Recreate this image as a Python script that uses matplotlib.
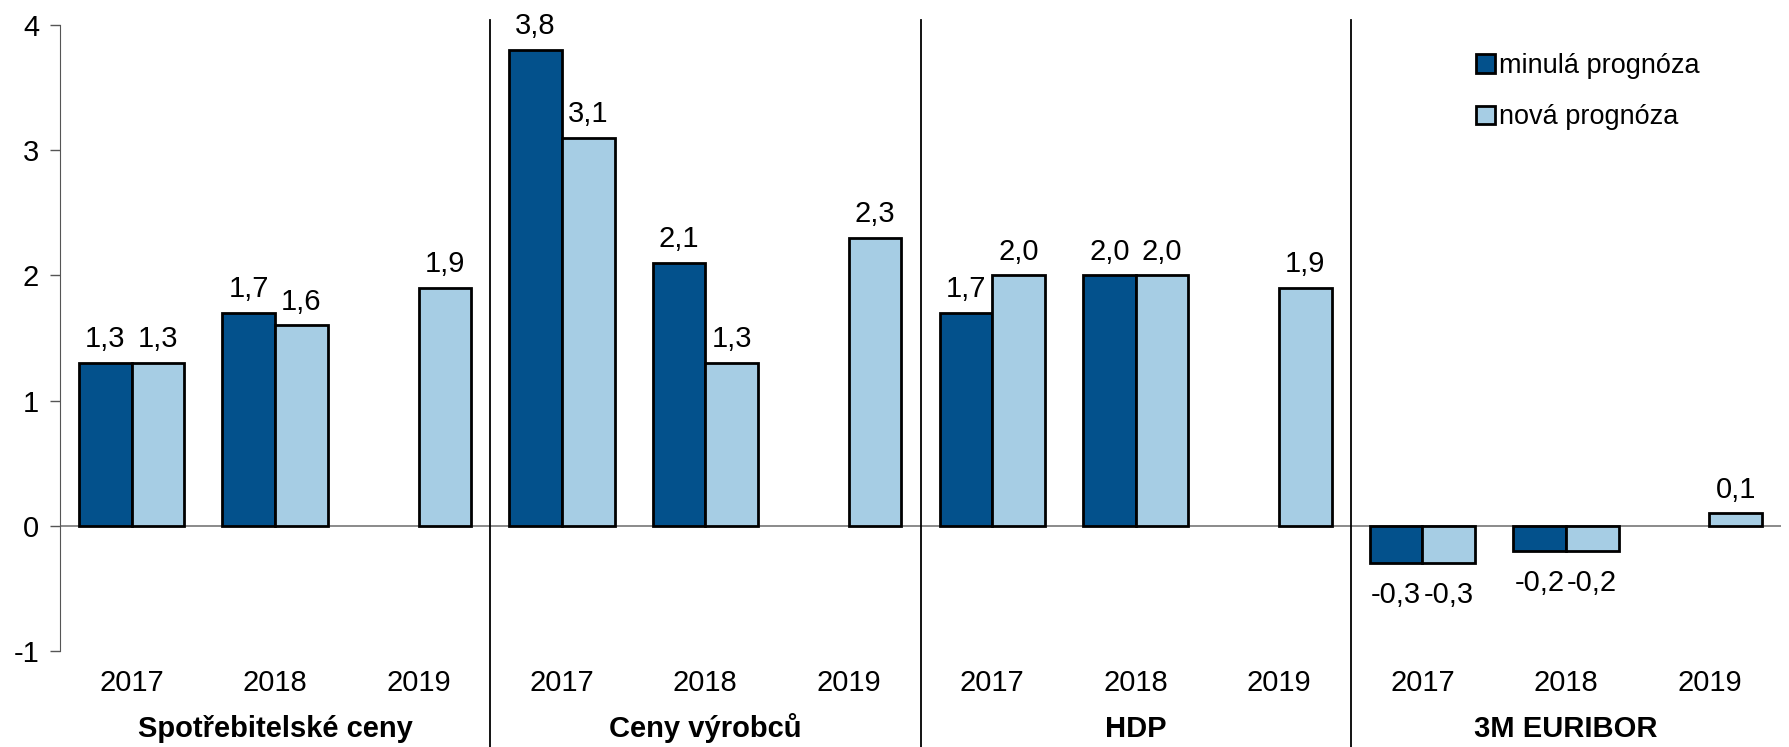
import matplotlib.pyplot as plt
import matplotlib.transforms as mtransforms
import numpy as np

plt.rcParams['font.family'] = ['Liberation Sans', 'DejaVu Sans']

groups = ["Spotřebitelské ceny", "Ceny výrobců", "HDP", "3M EURIBOR"]
years = ["2017", "2018", "2019"]
minula = [1.3, 1.7, np.nan, 3.8, 2.1, np.nan, 1.7, 2.0, np.nan, -0.3, -0.2, np.nan]
nova = [1.3, 1.6, 1.9, 3.1, 1.3, 2.3, 2.0, 2.0, 1.9, -0.3, -0.2, 0.1]

dark = "#03518c"
light = "#a6cde4"
fs = 21

fig = plt.figure(figsize=(17.9, 7.47), dpi=100)
ax = fig.add_axes([0.0335, 0.1285, 0.9615, 0.838])

x = np.arange(len(nova))
w = 0.367
b1 = ax.bar(x - w / 2, minula, w, color=dark, edgecolor="black", linewidth=2,
            label="minulá prognóza", zorder=3)
b2 = ax.bar(x + w / 2, nova, w, color=light, edgecolor="black", linewidth=2,
            label="nová prognóza", zorder=3)

def fmt(v):
    return f"{v:.1f}".replace(".", ",")

for bars, vals in ((b1, minula), (b2, nova)):
    for rect, v in zip(bars, vals):
        if np.isnan(v):
            continue
        cx = rect.get_x() + rect.get_width() / 2
        if v >= 0:
            ax.annotate(fmt(v), (cx, v), xytext=(0, 7), textcoords="offset points",
                        ha="center", va="bottom", fontsize=fs)
        else:
            ax.annotate(fmt(v), (cx, v), xytext=(0, -13), textcoords="offset points",
                        ha="center", va="top", fontsize=fs)

ax.set_xlim(-0.5, len(nova) - 0.5)
ax.set_ylim(-1, 4)
ax.set_yticks(range(-1, 5))
ax.set_yticklabels([str(t) for t in range(-1, 5)])
ax.set_xticks(x)
ax.set_xticklabels(years * len(groups))
ax.tick_params(axis="x", length=0, pad=13, labelsize=fs)
ax.tick_params(axis="y", direction="out", length=7, width=1, color="#555555",
               labelsize=fs, pad=8)

for s in ("top", "right", "bottom"):
    ax.spines[s].set_visible(False)
ax.spines["left"].set_color("#555555")

ax.axhline(0, color="#777777", linewidth=1.2, zorder=2)

# separators between groups, run down past the axis
for k in range(1, len(groups)):
    ax.plot([k * 3 - 0.5, k * 3 - 0.5], [4.04, -1.77], color="black", linewidth=1.3,
            clip_on=False, zorder=4)

trans = mtransforms.blended_transform_factory(ax.transData, fig.transFigure)
for i, g in enumerate(groups):
    ax.text(i * 3 + 1, 0.0134, g, transform=trans, ha="center", va="baseline",
            fontsize=fs, fontweight="bold")

ax.legend(loc="upper left", bbox_to_anchor=(0.811, 0.962), bbox_transform=fig.transFigure,
          frameon=False, fontsize=19.5, handlelength=0.7, handleheight=0.7,
          handletextpad=0.15, labelspacing=0.95)

fig.savefig("out.png", dpi=100)
